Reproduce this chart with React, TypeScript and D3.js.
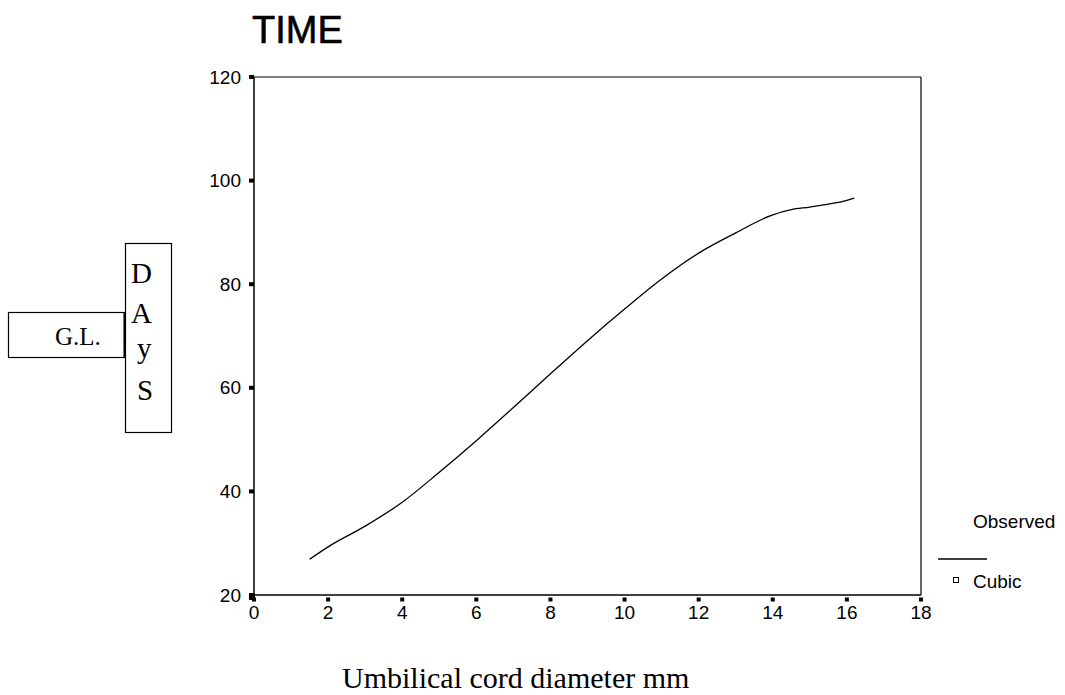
import React from 'react';
import * as d3 from 'd3';

// curve
const diameterMm = [1.5, 2, 3, 4, 5, 6, 7, 8, 9, 10, 11, 12, 13, 14, 14.5, 15, 16, 16.2];
const gaDays = [26.9, 29.3, 33.3, 37.9, 43.7, 49.8, 56.2, 62.7, 69.1, 75.2, 81, 86, 89.9, 93.4, 94.4, 94.9, 96.2, 96.6];

const xTicks = [0, 2, 4, 6, 8, 10, 12, 14, 16, 18];
const yTicks = [20, 40, 60, 80, 100, 120];
const daysLetters = ['D', 'A', 'y', 'S'];

const W = 1065;
const H = 695;
const plot = { left: 254, right: 921, top: 77, bottom: 595 };

const sans = '"Liberation Sans", Arial, sans-serif';
const serif = '"Liberation Serif", "Times New Roman", serif';

const App: React.FC = () => {
  const x = d3.scaleLinear().domain([0, 18]).range([plot.left, plot.right]);
  const y = d3.scaleLinear().domain([20, 120]).range([plot.bottom, plot.top]);

  const line = d3.line<number>()
    .x((_, i) => x(diameterMm[i]))
    .y(d => y(d))
    .curve(d3.curveMonotoneX);

  // letter positions inside the DAyS box
  const letterX = [131, 131, 137, 137];
  const letterY = [283, 323, 358, 400];

  return (
    <svg width={W} height={H} style={{ position: 'absolute', left: 0, top: 0, background: '#fff' }}>
      <rect x={0} y={0} width={W} height={H} fill="#fff" />

      {/* title */}
      <text x={252} y={43} fontFamily={sans} fontSize={38} fill="#000" stroke="#000" strokeWidth={0.6}>TIME</text>

      {/* frame */}
      <line x1={plot.left} y1={plot.top} x2={plot.right} y2={plot.top} stroke="#000" strokeWidth={1.2} />
      <line x1={plot.right} y1={plot.top} x2={plot.right} y2={plot.bottom} stroke="#000" strokeWidth={1.2} />
      <line x1={plot.left} y1={plot.top} x2={plot.left} y2={plot.bottom} stroke="#000" strokeWidth={1.5} />
      <line x1={plot.left} y1={plot.bottom} x2={plot.right} y2={plot.bottom} stroke="#000" strokeWidth={1.5} />

      {/* y ticks */}
      {yTicks.map(t => (
        <g key={`y${t}`}>
          <rect x={plot.left - 5} y={y(t) - 2} width={5} height={4} fill="#000" />
          <text x={241} y={y(t)} dy="0.35em" textAnchor="end" fontFamily={sans} fontSize={19} fill="#000">{t}</text>
        </g>
      ))}

      {/* x ticks */}
      {xTicks.map(t => (
        <g key={`x${t}`}>
          <rect x={x(t) - 2} y={plot.bottom + 2.5} width={4} height={4} fill="#000" />
          <text x={x(t)} y={619} textAnchor="middle" fontFamily={sans} fontSize={19} fill="#000">{t}</text>
        </g>
      ))}
      <rect x={plot.left - 5} y={plot.bottom - 2} width={6} height={7} fill="#000" />

      {/* fitted curve */}
      <path d={line(gaDays) || ''} fill="none" stroke="#000" strokeWidth={1.3} />

      {/* x axis title */}
      <text x={342} y={688} fontFamily={serif} fontSize={30} fill="#000">Umbilical cord diameter mm</text>

      {/* y axis label boxes */}
      <rect x={8.5} y={312.5} width={116} height={45} fill="#fff" stroke="#000" strokeWidth={1.2} />
      <text x={55} y={345} fontFamily={serif} fontSize={25} fill="#000">G.L.</text>
      <rect x={125.5} y={243.5} width={46} height={189} fill="#fff" stroke="#000" strokeWidth={1.2} />
      <line x1={124.5} y1={312} x2={124.5} y2={358} stroke="#000" strokeWidth={2} />
      {daysLetters.map((l, i) => (
        <text key={l} x={letterX[i]} y={letterY[i]} fontFamily={serif} fontSize={29} fill="#000">{l}</text>
      ))}

      {/* legend */}
      <text x={973} y={528} fontFamily={sans} fontSize={19} fill="#000">Observed</text>
      <line x1={938} y1={559} x2={987} y2={559} stroke="#000" strokeWidth={1.3} />
      <rect x={953.5} y={577.5} width={5} height={5} fill="#fff" stroke="#000" strokeWidth={1} />
      <text x={973} y={588} fontFamily={sans} fontSize={19} fill="#000">Cubic</text>
    </svg>
  );
};

export default App;
